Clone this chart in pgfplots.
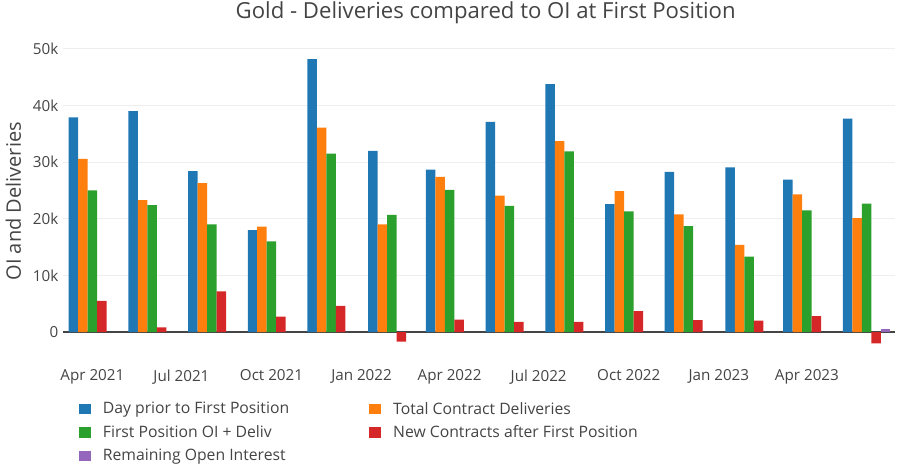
\documentclass[border=0pt]{standalone}
\usepackage{pgfplots}
\pgfplotsset{compat=1.18}
\usepackage{fontspec}
\setmainfont{Open Sans}
\definecolor{c1}{HTML}{1F77B4}
\definecolor{c2}{HTML}{FF7F0E}
\definecolor{c3}{HTML}{2CA02C}
\definecolor{c4}{HTML}{D62728}
\definecolor{c5}{HTML}{9467BD}
\definecolor{txt}{HTML}{444444}
\definecolor{gridc}{HTML}{EEEEEE}
\begin{document}
\begin{tikzpicture}[x=1pt,y=1pt]
\path[use as bounding box] (-47.25,-80.625) rectangle (627.75,268.125);
\begin{axis}[
  at={(0,0)}, anchor=south west, scale only axis,
  width=624pt, height=234.375pt,
  xmin=-30, xmax=820, ymin=-4500, ymax=50700,
  ybar, bar width=9.7,
  axis line style={draw=none}, major tick length=0pt,
  scaled y ticks=false,
  ytick={10000,20000,30000,40000,50000},
  yticklabels={10k,20k,30k,40k,50k},
  extra y ticks={0}, extra y tick labels={0},
  extra y tick style={grid style={color=txt, line width=0.8pt}},
  ymajorgrids, grid style={color=gridc, line width=0.75pt},
  xtick={0,91,183,275,365,456,548,640,730},
  xticklabels={Apr 2021,Jul 2021,Oct 2021,Jan 2022,Apr 2022,Jul 2022,Oct 2022,Jan 2023,Apr 2023},
  tick label style={font=\fontsize{11.4}{13}\selectfont, color=txt},
  xticklabel style={yshift=-5.5pt},
  /pgf/number format/assume math mode=true,
  ylabel={OI and Deliveries},
  ylabel style={at={(axis description cs:-0.0595,0.5)}, anchor=center, font=\fontsize{15}{17}\selectfont, color=txt},
  legend columns=2,
  legend cell align=left,
  legend style={draw=none, fill=none, at={(axis description cs:0.014,-0.125)}, anchor=north west,
    font=\fontsize{11.8}{13}\selectfont, text=txt, row sep=3.2pt,
    /tikz/every odd column/.append style={column sep=7pt},
    /tikz/every even column/.append style={column sep=58pt}},
  legend image code/.code={\fill[#1, draw=none] (0pt,-4pt) rectangle (9pt,4pt);},
]
\addplot[fill=c1, draw=none, bar shift=-19.4] coordinates {
(0,37900) (61,39000) (122,28400) (183,18000) (244,48200) (306,32000) (365,28700)
(426,37100) (487,43800) (548,22600) (609,28300) (671,29100) (730,26900) (791,37700)};
\addlegendentry{Day prior to First Position}
\addplot[fill=c2, draw=none, bar shift=-9.7] coordinates {
(0,30600) (61,23300) (122,26300) (183,18600) (244,36100) (306,19000) (365,27400)
(426,24100) (487,33700) (548,24900) (609,20800) (671,15400) (730,24300) (791,20100)};
\addlegendentry{Total Contract Deliveries}
\addplot[fill=c3, draw=none, bar shift=0] coordinates {
(0,25000) (61,22400) (122,19000) (183,16000) (244,31500) (306,20700) (365,25100)
(426,22300) (487,31900) (548,21300) (609,18700) (671,13300) (730,21500) (791,22700)};
\addlegendentry{First Position OI + Deliv}
\addplot[fill=c4, draw=none, bar shift=9.7] coordinates {
(0,5500) (61,800) (122,7200) (183,2700) (244,4600) (306,-1700) (365,2200)
(426,1800) (487,1800) (548,3700) (609,2100) (671,2000) (730,2800) (791,-2000)};
\addlegendentry{New Contracts after First Position}
\addplot[fill=c5, draw=none, bar shift=19.4] coordinates {(791,600)};
\addlegendentry{Remaining Open Interest}
\end{axis}
\node[font=\fontsize{16.6}{19}\selectfont, text=txt] at (317,258.4) {Gold - Deliveries compared to OI at First Position};
\end{tikzpicture}
\end{document}
